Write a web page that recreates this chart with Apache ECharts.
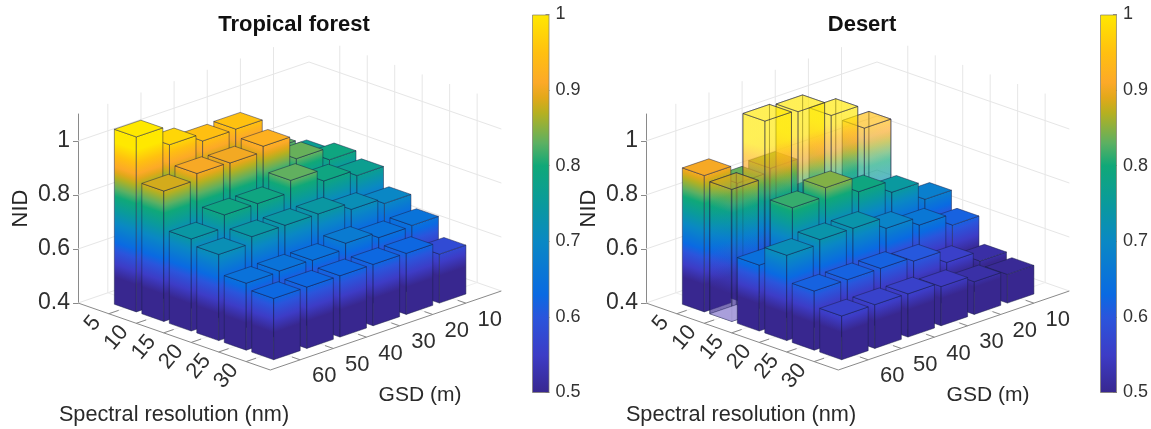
<!DOCTYPE html>
<html><head><meta charset="utf-8">
<style>html,body{margin:0;padding:0;background:#fff}#c{width:1151px;height:429px}</style>
<script src="https://cdn.jsdelivr.net/npm/echarts@6/dist/echarts.min.js"></script>
</head><body><div id="c"></div>
<script>
// ---- data ----
const spectral = [5, 10, 15, 20, 25, 30];
const gsd = [60, 50, 40, 30, 20, 10];
const nidTicks = [0.4, 0.6, 0.8, 1];
const forestNID = [
  [1.048, 0.977, 0.949, 0.951, 0.832, 0.765],
  [0.883, 0.906, 0.903, 0.923, 0.835, 0.789],
  [0.741, 0.788, 0.788, 0.832, 0.788, 0.766],
  [0.719, 0.743, 0.743, 0.743, 0.718, 0.698],
  [0.648, 0.651, 0.649, 0.670, 0.649, 0.652],
  [0.627, 0.627, 0.627, 0.627, 0.626, 0.581]
];
const desertNID = [
  [0.905, 0.835, 0.848, 0.700, 0.640, 0.600],
  [0.889, 1.100, 1.093, 1.037, 0.948, 0.640],
  [0.644, 0.815, 0.847, 0.790, 0.746, 0.678],
  [0.716, 0.732, 0.732, 0.690, 0.660, 0.618],
  [0.619, 0.619, 0.619, 0.604, 0.557, 0.520],
  [0.562, 0.562, 0.560, 0.545, 0.521, 0.506]
];
const colormapStops = [
  [0.50,'#38278f'],[0.55,'#3d3cc6'],[0.60,'#2a55dc'],[0.63,'#0a6ae2'],[0.70,'#0a88c4'],
  [0.75,'#0a9a9c'],[0.80,'#10a878'],[0.83,'#5cb062'],[0.87,'#b6b020'],[0.89,'#e2a81a'],
  [0.91,'#fca928'],[0.95,'#ffc010'],[1.00,'#ffe800']
];

// ---- axis box of each 3D panel ----
const sRange = [-0.6, 34.4], gRange = [-0.7, 69];
const U = [192.3, 67], V = [231, -79];
const zMin = 0.4, zMax = 1.1, halfS = 2, halfG = 4;

function hexRgb(h){return [1,3,5].map(i=>parseInt(h.substr(i,2),16));}
function cmap(z){
  const st = colormapStops;
  if (z <= st[0][0]) return st[0][1];
  if (z >= st[st.length-1][0]) return st[st.length-1][1];
  for (let i=1;i<st.length;i++) if (z<=st[i][0]){
    const f=(z-st[i-1][0])/(st[i][0]-st[i-1][0]), a=hexRgb(st[i-1][1]), b=hexRgb(st[i][1]);
    return 'rgb('+a.map((v,k)=>Math.round(v+(b[k]-v)*f)).join(',')+')';
  }
}
function project(api, s, g, z){
  const o = api.coord([0, zMin]), t = api.coord([0, z]);
  const u = (s-sRange[0])/(sRange[1]-sRange[0]), v = (gRange[1]-g)/(gRange[1]-gRange[0]);
  return [o[0]+u*U[0]+v*V[0], t[1]+u*U[1]+v*V[1]];
}
function faceGradient(p0, dir, H, zTop){
  const len = Math.hypot(dir[0],dir[1]), n=[-dir[1]/len, dir[0]/len];
  const d = n[1]*(-H), G=[n[0]*d, n[1]*d];
  const stops=[{offset:0,color:cmap(zMin)}];
  colormapStops.forEach(c=>{ if(c[0]>zMin && c[0]<zTop) stops.push({offset:(c[0]-zMin)/(zTop-zMin),color:c[1]}); });
  stops.push({offset:1,color:cmap(zTop)});
  return new echarts.graphic.LinearGradient(p0[0],p0[1],p0[0]+G[0],p0[1]+G[1],stops,true);
}
const edge = 'rgba(25,30,70,0.6)';
function poly(points, fill, opacity, edgeOpacity){
  return {type:'polygon', shape:{points}, style:{fill, stroke:edge, lineWidth:0.8, fillOpacity:opacity, strokeOpacity:edgeOpacity}};
}
function barItem(translucentRow, glimpse){
  return function(params, api){
    const s=api.value(0), g=api.value(1), z=api.value(2);
    const P=(a,b,c)=>project(api,s+a*halfS,g+b*halfG,c);
    const H=(z-zMin)*(api.coord([0,zMin])[1]-api.coord([0,zMin+1])[1]);
    const see = s===translucentRow;
    const op = see ? 0.55 : 1;
    const kids=[];
    if (see){
      kids.push(poly([P(-1,-1,zMin),P(-1,1,zMin),P(-1,1,z),P(-1,-1,z)],faceGradient(P(-1,-1,zMin),V,H,z),0.25,1));
      kids.push(poly([P(-1,-1,zMin),P(1,-1,zMin),P(1,-1,z),P(-1,-1,z)],faceGradient(P(-1,-1,zMin),U,H,z),0.25,1));
    }
    kids.push(poly([P(-1,1,zMin),P(1,1,zMin),P(1,1,z),P(-1,1,z)],faceGradient(P(1,1,zMin),U,H,z),op,1));
    kids.push(poly([P(1,1,zMin),P(1,-1,zMin),P(1,-1,z),P(1,1,z)],faceGradient(P(1,1,zMin),V,H,z),op,1));
    kids.push(poly([P(-1,-1,z),P(1,-1,z),P(1,1,z),P(-1,1,z)],cmap(z),op,1));
    if (glimpse && glimpse[0]===s && glimpse[1]===g){
      kids.push({type:'polygon',shape:{points:[P(-1,-1,zMin),P(1,-1,zMin),P(1,1,zMin),P(-1,1,zMin)]},
        style:{fill:'rgba(172,162,222,0.9)',stroke:edge,lineWidth:0.5}});
    }
    return {type:'group',children:kids};
  };
}
function frameItem(params, api){
  const gridCol='#e6e6e6', floorCol='#f0f0f0', axisCol='#8a8a8a', txt='#2f2f2f';
  const kids=[];
  const line=(a,b,c,w)=>kids.push({type:'line',shape:{x1:a[0],y1:a[1],x2:b[0],y2:b[1]},style:{stroke:c,lineWidth:w||1}});
  const [s0,s1]=sRange,[g0,g1]=gRange;
  nidTicks.forEach(z=>{
    line(project(api,s0,g1,z),project(api,s0,g0,z),gridCol);
    line(project(api,s0,g0,z),project(api,s1,g0,z),gridCol);
  });
  gsd.forEach(g=>{
    line(project(api,s0,g,zMin),project(api,s0,g,zMax),gridCol);
    line(project(api,s0,g,zMin),project(api,s1,g,zMin),floorCol);
  });
  spectral.forEach(s=>{
    line(project(api,s,g0,zMin),project(api,s,g0,zMax),gridCol);
    line(project(api,s,g0,zMin),project(api,s,g1,zMin),floorCol);
  });
  line(project(api,s0,g1,zMin),project(api,s1,g1,zMin),axisCol);
  line(project(api,s1,g1,zMin),project(api,s1,g0,zMin),axisCol);
  spectral.forEach(s=>{
    const p=project(api,s,g1,zMin), q=project(api,s,g1-3,zMin);
    line(p,q,axisCol);
    kids.push({type:'text',x:p[0]-12,y:p[1]+5,rotation:50*Math.PI/180,
      style:{text:String(s),fill:txt,font:'22px "Liberation Sans"',align:'right',verticalAlign:'middle'}});
  });
  gsd.forEach(g=>{
    const p=project(api,s1,g,zMin), q=project(api,s1-1.5,g,zMin);
    line(p,q,axisCol);
    kids.push({type:'text',x:p[0]+24,y:p[1]+16.5,
      style:{text:String(g),fill:txt,font:'22px "Liberation Sans"',align:'center',verticalAlign:'middle'}});
  });
  return {type:'group',children:kids};
}
function barData(rows){
  const out=[];
  spectral.forEach((s,i)=>{ for(let k=gsd.length-1;k>=0;k--) out.push([s,gsd[k],rows[i][k]]); });
  return out;
}

// ---- panels ----
const panels=[
  {name:'Tropical forest',rows:forestNID,ox:78,cx:289,spX:174,gsX:420,tb:null,gl:null,cb:532},
  {name:'Desert',rows:desertNID,ox:646,cx:857,spX:741,gsX:988,tb:10,gl:[10,60],cb:1100}
];
const grid=[],xAxis=[],yAxis=[],series=[],title=[],graphic=[];
panels.forEach((p,n)=>{
  const a=grid.length;
  grid.push({left:p.ox,top:114,width:440,height:189});
  xAxis.push({gridIndex:a,type:'value',min:0,max:1,show:false});
  yAxis.push({gridIndex:a,type:'value',min:zMin,max:zMax,interval:0.2,
    name:'NID',nameLocation:'middle',nameRotate:90,nameGap:46,
    nameTextStyle:{fontSize:22,color:'#262626',fontFamily:'Liberation Sans'},
    axisLine:{show:true,lineStyle:{color:'#8a8a8a',width:1}},
    axisTick:{show:true,length:5,customValues:nidTicks,lineStyle:{color:'#8a8a8a'}},
    axisLabel:{customValues:nidTicks,fontSize:23,color:'#2f2f2f',margin:8,fontFamily:'Liberation Sans',
      formatter:v=>String(+v.toFixed(1))},
    splitLine:{show:false}});
  series.push({type:'custom',xAxisIndex:a,yAxisIndex:a,data:[[0]],z:1,silent:true,renderItem:frameItem,animation:false});
  series.push({type:'custom',xAxisIndex:a,yAxisIndex:a,data:barData(p.rows),z:2,silent:true,
    renderItem:barItem(p.tb,p.gl),animation:false,encode:{x:[],y:2}});
  const b=grid.length;
  grid.push({left:p.cb,top:14.5,width:17.5,height:378});
  xAxis.push({gridIndex:b,type:'category',data:[''],show:false});
  yAxis.push({gridIndex:b,type:'value',min:0.5,max:1,interval:0.1,position:'right',
    axisLine:{show:false},
    axisTick:{show:true,inside:true,length:4,lineStyle:{color:'rgba(60,50,40,0.55)'}},
    axisLabel:{fontSize:18,color:'#333',margin:6,fontFamily:'Liberation Sans',formatter:v=>String(+v.toFixed(1))},
    splitLine:{show:false}});
  series.push({type:'bar',xAxisIndex:b,yAxisIndex:b,data:[1],barWidth:'100%',silent:true,animation:false,
    itemStyle:{borderColor:'rgba(130,125,110,0.7)',borderWidth:1,
      color:new echarts.graphic.LinearGradient(0,1,0,0,
        colormapStops.map(c=>({offset:(c[0]-0.5)/0.5,color:c[1]})))}});
  title.push({text:p.name,left:p.cx,top:9,textAlign:'center',
    textStyle:{fontSize:22,fontWeight:'bold',color:'#111',fontFamily:'Liberation Sans'}});
  graphic.push({type:'text',x:p.spX,y:415,silent:true,
    style:{text:'Spectral resolution (nm)',fill:'#2a2a2a',font:'21.7px "Liberation Sans"',align:'center',verticalAlign:'middle'}});
  graphic.push({type:'text',x:p.gsX,y:395,silent:true,
    style:{text:'GSD (m)',fill:'#2a2a2a',font:'21px "Liberation Sans"',align:'center',verticalAlign:'middle'}});
});
const chart=echarts.init(document.getElementById('c'),null,{renderer:'canvas',width:1151,height:429});
chart.setOption({backgroundColor:'#fff',animation:false,title,grid,xAxis,yAxis,series,graphic});
</script></body></html>
